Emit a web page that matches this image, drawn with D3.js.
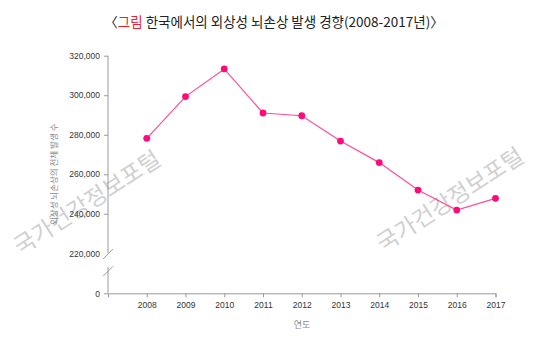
<!DOCTYPE html>
<html>
<head>
<meta charset="utf-8">
<script src="https://cdn.jsdelivr.net/npm/d3@7"></script>
<style>
  html, body { margin: 0; padding: 0; background: #fff; }
  svg { display: block; }
</style>
</head>
<body>
<svg id="chart" width="550" height="340"></svg>
<script>
// Annual traumatic brain injury cases in Korea
const years = [2008, 2009, 2010, 2011, 2012, 2013, 2014, 2015, 2016, 2017];
const cases = [278200, 299300, 313300, 291000, 289600, 276800, 265900, 252000, 241900, 247800];
const yTicks = [0, 220000, 240000, 260000, 280000, 300000, 320000];

const titleParts = [
  { text: "〈", color: "#222" },
  { text: "그림", color: "#e8222a" },
  { text: " 한국에서의 외상성 뇌손상 발생 경향(2008-2017년)〉", color: "#222" }
];
const yTitle = "외상성 뇌손상의 전체 발생 수";
const xTitle = "연도";
const watermark = "국가건강정보포털";

const svg = d3.select("#chart");
const axisColor = "#9a9a9a";
const labelFont = "'Liberation Sans', Arial, sans-serif";
const krFont = "'Noto Sans CJK KR', 'Noto Sans', sans-serif";

// Scales: the y scale is piecewise so the 0 baseline sits just below a broken axis
const x = d3.scaleLinear().domain([2007, 2017]).range([108, 495.5]);
const y = d3.scaleLinear().domain([0, 220000, 320000]).range([293.3, 253.3, 55.7]);

// Watermarks
[[86, 201], [449, 198]].forEach(([cx, cy]) => {
  svg.append("text")
    .attr("transform", `translate(${cx},${cy}) rotate(-33)`)
    .attr("text-anchor", "middle")
    .attr("dominant-baseline", "central")
    .attr("font-family", krFont)
    .attr("font-size", 23)
    .attr("fill", "#d0d0d0")
    .text(watermark);
});

// Title
const title = svg.append("text")
  .attr("x", 274).attr("y", 27)
  .attr("text-anchor", "middle")
  .attr("font-family", krFont)
  .attr("font-weight", 400)
  .attr("font-size", 13.5);
titleParts.forEach(p => title.append("tspan").attr("fill", p.color).text(p.text));

// X axis
const xAxis = svg.append("g")
  .attr("transform", `translate(0,${y(0)})`)
  .call(d3.axisBottom(x).tickValues(years).tickFormat(d3.format("d")).tickSize(4).tickSizeOuter(4));
xAxis.selectAll("path, line").attr("stroke", axisColor);
xAxis.selectAll("text")
  .attr("font-family", labelFont).attr("font-size", 8.5).attr("fill", "#333")
  .attr("dy", "0.71em").attr("y", 9);

// Y axis (ticks and labels only; the spine is drawn with a break)
const yAxis = svg.append("g")
  .attr("transform", `translate(${x(2007)},0)`)
  .call(d3.axisLeft(y).tickValues(yTicks).tickFormat(d3.format(",")).tickSize(4));
yAxis.select(".domain").remove();
yAxis.selectAll("line").attr("stroke", axisColor);
yAxis.selectAll(".tick").filter(d => d === 220000).select("line").remove();
yAxis.selectAll("text")
  .attr("font-family", labelFont).attr("font-size", 8.5).attr("fill", "#333")
  .attr("x", -8);

const x0 = x(2007);
const spine = svg.append("g").attr("stroke", axisColor).attr("fill", "none");
spine.append("line").attr("x1", x0).attr("x2", x0).attr("y1", y(320000)).attr("y2", y(220000));
spine.append("line").attr("x1", x0).attr("x2", x0).attr("y1", y(0) - 26.5).attr("y2", y(0));
// break marks
const upperBreak = y(220000) + 0.8;
const lowerBreak = y(0) - 22;
[upperBreak, lowerBreak].forEach(cy => {
  spine.append("line")
    .attr("x1", x0 - 5).attr("y1", cy + 5)
    .attr("x2", x0 + 5).attr("y2", cy - 5);
});

// Axis titles
svg.append("text")
  .attr("transform", `translate(57,${(y(240000) + y(280000)) / 2}) rotate(-90)`)
  .attr("text-anchor", "middle")
  .attr("font-family", krFont)
  .attr("font-size", 8.5)
  .attr("fill", "#8c8c8c")
  .text(yTitle);

svg.append("text")
  .attr("x", (x(2012) + x(2013)) / 2 - 19).attr("y", 328)
  .attr("text-anchor", "middle")
  .attr("font-family", krFont)
  .attr("font-size", 9)
  .attr("fill", "#8c8c8c")
  .text(xTitle);

// Series line and points
const data = years.map((yr, i) => ({ year: yr, value: cases[i] }));
svg.append("path")
  .datum(data)
  .attr("fill", "none")
  .attr("stroke", "#ff4d97")
  .attr("stroke-width", 1.2)
  .attr("d", d3.line().x(d => x(d.year)).y(d => y(d.value)));

svg.append("g").selectAll("circle")
  .data(data)
  .join("circle")
  .attr("cx", d => x(d.year))
  .attr("cy", d => y(d.value))
  .attr("r", 3.4)
  .attr("fill", "#ff0a78");
</script>
</body>
</html>
